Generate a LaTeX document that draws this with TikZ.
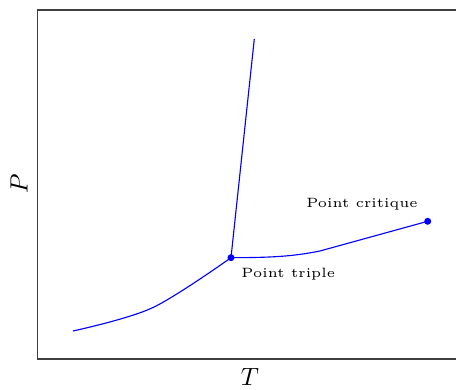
\documentclass[tikz,border=0pt]{standalone}
\usepackage{amsmath}
\usepackage{amssymb}
\usetikzlibrary{positioning}

\tikzset{
    curve/.style={blue, line width=0.45pt},
    dot/.style={circle, fill=blue, inner sep=0pt, minimum size=2.8pt},
    lbl/.style={font=\fontsize{5.4}{6.5}\selectfont, inner sep=0pt}
}

\begin{document}
\begin{tikzpicture}[x=0.4pt, y=0.4pt]
\useasboundingbox (0,0) rectangle (456,390);
% cadre
\draw[black!75, line width=0.5pt] (456,31) -- (37.5,31) -- (37.5,380) -- (456,380);
\node[rotate=90] (axeP) at (19,206) {$P$};
\node (axeT) at (250,13) {$T$};
% points
\coordinate (tp) at (231,132.3);
\coordinate (cp) at (427.7,168.7);
\coordinate (fus) at (254.3,351);
\coordinate (sub) at (73,59);
% courbes
\draw[curve] (tp) -- (fus);
\draw[curve] plot[smooth, tension=0.55] coordinates {(73,59) (152,82) (231,132.3)};
\draw[curve] (tp) .. controls (275,132.3) and (295,134) .. (320,139) -- (cp);
\node[dot] (tpdot) at (tp) {};
\node[dot] (cpdot) at (cp) {};
\node[lbl, below right=3.9pt and 4pt of tp] (tplbl) {Point triple};
\node[lbl, above left=4.2pt and 3.8pt of cp] (cplbl) {Point critique};
\end{tikzpicture}
\end{document}
